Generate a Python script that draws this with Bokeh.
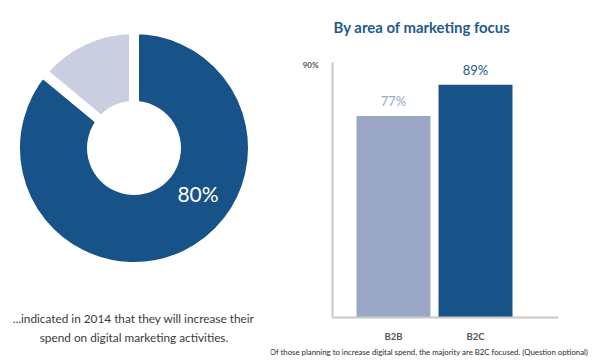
import numpy as np
from bokeh.plotting import figure
from bokeh.layouts import row, column
from bokeh.models import Range1d, FixedTicker, ColumnDataSource
from bokeh.core.properties import value
from bokeh.embed import file_html
from bokeh.resources import INLINE

# ---------------- data ----------------
donut_labels = ["Will increase digital spend", "Other"]
donut_values = [86, 14]
donut_colors = ["#175388", "#c9cfe1"]
donut_center_label = "80%"
donut_caption = ["...indicated in 2014 that they will increase their",
                 "spend on digital marketing activities."]

bar_categories = ["B2B", "B2C"]
bar_values = [77, 89]
bar_colors = ["#9aa8c6", "#175388"]
bar_label_colors = ["#9aa8c6", "#1d578c"]
bar_value_labels = ["77%", "89%"]
y_tick_values = [96.5]
y_tick_labels = ["90%"]
title_text = "By area of marketing focus"
footnote_text = "Of those planning to increase digital spend, the majority are B2C focused. (Question optional)"

FONT = "Lato"


def blank(width, height, x0, y0):
    """A figure whose frame is the whole canvas; data units are page pixels (y downward as negative)."""
    f = figure(width=width, height=height,
               x_range=Range1d(x0, x0 + width), y_range=Range1d(-(y0 + height), -y0),
               output_backend="svg", toolbar_location=None, min_border=0, title=None)
    f.axis.visible = False
    f.grid.visible = False
    f.outline_line_color = None
    f.background_fill_color = "white"
    f.border_fill_color = "white"
    f.frame_align = False
    return f


# ---------------- donut ----------------
d = blank(270, 362, 0, 0)
fr = np.array(donut_values, dtype=float) / sum(donut_values)
ends = np.pi / 2 - 2 * np.pi * np.concatenate([[0.0], np.cumsum(fr)[:-1]])
starts = ends - 2 * np.pi * fr
dsrc = ColumnDataSource(dict(start=starts, end=ends, color=donut_colors, label=donut_labels))
d.annular_wedge(x=133.5, y=-147.5, inner_radius=42, outer_radius=119,
                start_angle="start", end_angle="end", fill_color="color",
                line_color="white", line_width=10, source=dsrc)
d.text(x=[197.5], y=[-193], text=[donut_center_label], text_color="white",
       text_font=value(FONT), text_font_size="21px", text_align="center",
       text_baseline="middle")
d.text(x=[133, 133.5], y=[-318, -337], text=donut_caption, text_color="#3a3a3a",
       text_font=value(FONT), text_font_size="11.8px", text_align="center",
       text_baseline="middle")

# ---------------- title ----------------
t = blank(330, 54, 270, 0)
t.text(x=[421.5], y=[-26], text=[title_text], text_color="#1f5a8f",
       text_font=value(FONT), text_font_size="14.9px", text_font_style="bold",
       text_align="center", text_baseline="middle")

# ---------------- bar chart ----------------
b = figure(width=330, height=290, x_range=Range1d(-0.744, 2.012), y_range=Range1d(0, 97.5),
           output_backend="svg", toolbar_location=None, title=None,
           min_border_left=62, min_border_right=42, min_border_top=8, min_border_bottom=22)
b.frame_align = False
b.grid.visible = False
b.outline_line_color = None
b.background_fill_color = "white"
b.border_fill_color = "white"

bsrc = ColumnDataSource(dict(x=list(range(len(bar_categories))), top=bar_values,
                             color=bar_colors, lcolor=bar_label_colors,
                             label=bar_value_labels))
b.vbar(x="x", top="top", width=0.902, bottom=0, fill_color="color", line_color=None, source=bsrc)
b.text(x="x", y="top", text="label", text_color="lcolor", y_offset=-7,
       text_font=value(FONT), text_font_size="13px", text_align="center",
       text_baseline="bottom", source=bsrc)

for ax in (b.xaxis[0], b.yaxis[0]):
    ax.major_tick_line_color = None
    ax.minor_tick_line_color = None
    ax.axis_line_color = "#c8c8c8"
    ax.axis_line_width = 2
    ax.major_label_text_font = FONT
    ax.major_label_text_color = "#555555"
    ax.major_label_text_font_style = "bold"

b.xaxis.ticker = FixedTicker(ticks=list(range(len(bar_categories))))
b.xaxis.major_label_overrides = {i: c for i, c in enumerate(bar_categories)}
b.xaxis.major_label_text_font_size = "9.5px"
b.xaxis.major_label_standoff = 7
b.yaxis.ticker = FixedTicker(ticks=y_tick_values)
b.yaxis.major_label_overrides = dict(zip(y_tick_values, y_tick_labels))
b.yaxis.major_label_text_font_size = "8px"
b.yaxis.major_label_standoff = 8

# ---------------- footnote ----------------
f = blank(330, 18, 270, 344)
f.text(x=[428.5], y=[-351], text=[footnote_text], text_color="#2a2a2a",
       text_font=value(FONT), text_font_size="7.8px", text_align="center",
       text_baseline="middle")

layout = row(d, column(t, b, f, spacing=0), spacing=0)
open("out.html", "w").write(file_html(layout, INLINE))
